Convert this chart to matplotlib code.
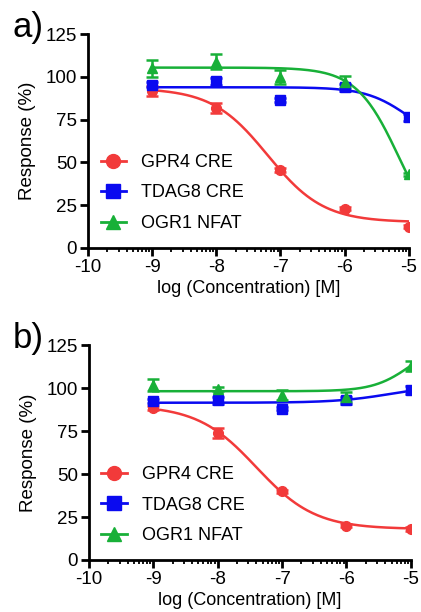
import numpy as np
import matplotlib
matplotlib.use("Agg")
import matplotlib.pyplot as plt

plt.rcParams["font.family"] = ["Liberation Sans", "DejaVu Sans"]

log_conc = [-9, -8, -7, -6, -5]
names = ["GPR4 CRE", "TDAG8 CRE", "OGR1 NFAT"]

# panel a: mean response and error
a_gpr4 = [92, 82, 45.5, 23, 12.5]
a_gpr4_err = [3, 3, 1, 1, 1]
a_tdag8 = [95.5, 97.5, 86.5, 94, 76.5]
a_tdag8_err = [1.5, 2, 1, 2, 2]
a_ogr1 = [105, 109, 100, 97, 43]
a_ogr1_err = [5, 4.5, 4, 3.5, 1]

# panel b
b_gpr4 = [88.5, 74, 40, 20, 18]
b_gpr4_err = [1, 3, 1, 1, 1]
b_tdag8 = [92.5, 93, 88, 93, 99]
b_tdag8_err = [1, 2, 1, 2, 2.5]
b_ogr1 = [102, 99.5, 96, 95, 113]
b_ogr1_err = [3.5, 1, 3, 3, 3]

# fitted dose-response curves: plateau at low conc, plateau at high conc, logEC50, hill
a_fits = [(93.5, 15, -7.2, 1.0), (94, 60, -5.0, 1.3), (105.5, 0, -5.15, 1.3)]
b_fits = [(90, 18, -7.4, 0.95), (91.5, 102, -5.3, 1.0), (98.2, 128, -5.0, 1.5)]

colors = ["#F23A3A", "#0A0AF0", "#18B038"]
markers = ["o", "s", "^"]


def dose_response(x, start, end, ec50, hill):
    return end + (start - end) / (1 + 10 ** ((x - ec50) * hill))


def draw_panel(ax, series, errs, fits, tag):
    xs = np.linspace(-9, -5, 200)
    for i in range(3):
        ax.plot(xs, dose_response(xs, *fits[i]), color=colors[i], lw=1.8, zorder=2)
        ax.errorbar(log_conc, series[i], yerr=errs[i], fmt=markers[i], color=colors[i],
                    ms=7, capsize=4, elinewidth=1.8, capthick=1.8, zorder=3)
        ax.plot([], [], color=colors[i], marker=markers[i], ms=10, lw=2, label=names[i])

    ax.set_xlim(-10, -5)
    ax.set_ylim(0, 125)
    ax.set_xticks(range(-10, -4))
    ax.set_xticklabels([str(v) for v in range(-10, -4)])
    minor = [d + np.log10(k) for d in range(-10, -5) for k in range(2, 10)]
    ax.set_xticks(minor, minor=True)
    ax.set_yticks([0, 25, 50, 75, 100, 125])
    ax.spines["top"].set_visible(False)
    ax.spines["right"].set_visible(False)
    ax.spines["left"].set_linewidth(2)
    ax.spines["bottom"].set_linewidth(2)
    ax.tick_params(axis="both", which="major", direction="out", length=6, width=2, labelsize=13.5, pad=2)
    ax.tick_params(axis="x", which="minor", direction="out", length=3, width=1.3)
    ax.set_ylabel("Response (%)", fontsize=13.5, labelpad=7)
    ax.set_xlabel("log (Concentration) [M]", fontsize=13, labelpad=3)
    ax.legend(loc="lower left", bbox_to_anchor=(0.0, 0.015), frameon=False, fontsize=13,
              handlelength=1.4, labelspacing=0.75, handletextpad=0.85, borderaxespad=0.3)
    ax.text(-0.14, 1.11, tag, transform=ax.transAxes, fontsize=25, va="top", ha="right")


fig = plt.figure(figsize=(4.21, 6.12), dpi=100)
ax1 = fig.add_axes([0.209, 0.595, 0.762, 0.349])
ax2 = fig.add_axes([0.211, 0.085, 0.765, 0.351])

draw_panel(ax1, [a_gpr4, a_tdag8, a_ogr1], [a_gpr4_err, a_tdag8_err, a_ogr1_err], a_fits, "a)")
draw_panel(ax2, [b_gpr4, b_tdag8, b_ogr1], [b_gpr4_err, b_tdag8_err, b_ogr1_err], b_fits, "b)")

fig.savefig("out.png", dpi=100)
